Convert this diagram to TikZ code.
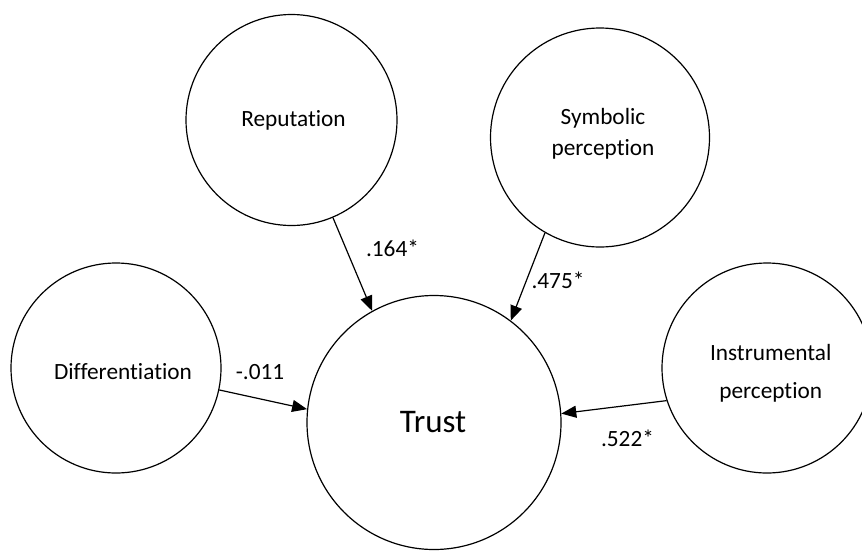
\documentclass[tikz,border=0pt]{standalone}
\usepackage{fontspec}
\setmainfont[Ligatures=NoCommon]{Carlito}
\usetikzlibrary{arrows.meta}
\begin{document}
\begin{tikzpicture}[x=1pt,y=-1pt,
  var/.style={circle,draw=black,line width=1.2pt,inner sep=0pt},
  txt/.style={inner sep=0pt,anchor=base,font=\fontsize{23.3}{28}\selectfont},
  arr/.style={line width=1.2pt,-{Triangle[length=15pt,width=12pt]}}]
\clip (0,0) rectangle (862,552);
\fill[white] (0,0) rectangle (862,552);
% circles
\node[var,minimum size=211pt] (rep) at (291.5,120) {};
\node[var,minimum size=219pt] (sym) at (600,137.5) {};
\node[var,minimum size=210pt] (dif) at (116,368) {};
\node[var,minimum size=210pt] (ins) at (767,368) {};
\node[var,minimum size=254pt] (trust) at (434,422.5) {};
% texts
\node[txt] (repT) at (293.5,126) {Reputation};
\node[txt] (symT1) at (603,124) {Symbolic};
\node[txt] (symT2) at (603,155) {perception};
\node[txt] (difT) at (123,379.3) {Differentiation};
\node[txt] (insT1) at (770.7,360.7) {Instrumental};
\node[txt] (insT2) at (770.7,398.3) {perception};
\node[txt,font=\fontsize{33}{40}\selectfont] (trustT) at (433,432) {Trust};
% paths
\draw[arr] (rep.-67) -- (trust.119.8);
\draw[arr] (sym.-120.8) -- (trust.53.5);
\draw[arr] (dif.-12.8) -- (trust.174.2);
\draw[arr] (ins.-162.4) -- (trust.4.2);
% coefficients
\node[txt] (c1) at (392.5,256) {.164*};
\node[txt] (c2) at (558,288.3) {.475*};
\node[txt] (c3) at (260,379.3) {-.011};
\node[txt] (c4) at (627.5,446) {.522*};
\end{tikzpicture}
\end{document}
